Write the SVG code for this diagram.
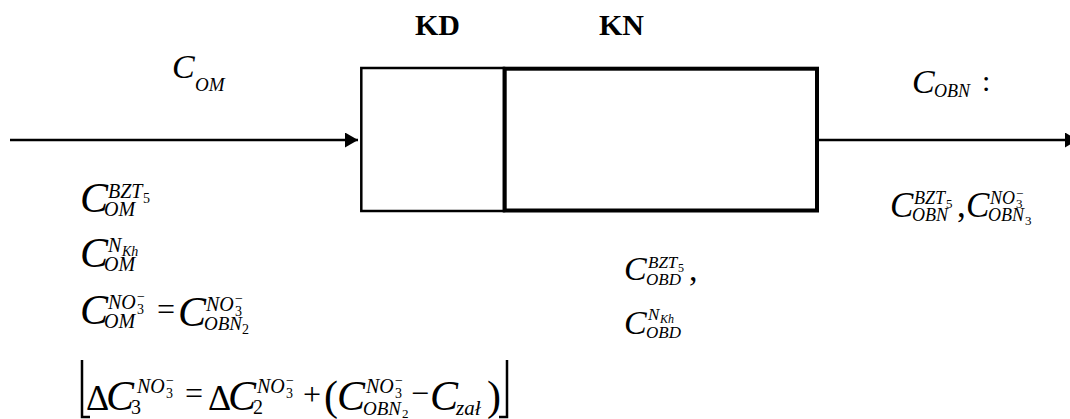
<svg xmlns="http://www.w3.org/2000/svg" width="1070" height="419" viewBox="0 0 1070 419">
<defs>
<style>
text{font-family:"Liberation Serif","Times New Roman",serif;fill:#000}
.b{font-weight:bold;font-size:30px}
.i{font-style:italic}
.u{font-style:normal}
.ln{stroke:#000;fill:none;stroke-width:2.5}
</style>
<marker id="ah" markerWidth="14" markerHeight="16" refX="13" refY="7.5" orient="auto" markerUnits="userSpaceOnUse">
<path d="M0,0 L13,7.5 L0,15 z" fill="#000"/>
</marker>
</defs>
<rect width="1070" height="419" fill="#fff"/>

<g id="connectors">
<line class="ln" x1="10" y1="140" x2="358" y2="140" marker-end="url(#ah)"/>
<line class="ln" x1="818" y1="140" x2="1078" y2="140" marker-end="url(#ah)"/>
</g>

<g id="node-KD">
<rect x="361.3" y="68" width="142.7" height="143" fill="#fff" stroke="#000" stroke-width="2.5"/>
<text class="b" x="415" y="35">KD</text>
</g>
<g id="node-KN">
<rect x="504.7" y="68.7" width="312.3" height="141.8" fill="none" stroke="#000" stroke-width="4"/>
<text class="b" x="599" y="35">KN</text>
</g>

<g id="label-com">
<text class="i"><tspan x="172" y="78" font-size="34">C</tspan><tspan x="195" y="91" font-size="19">OM</tspan></text>
</g>

<g id="label-left">
<text class="i" font-size="20"><tspan x="80" y="212" font-size="42">C</tspan><tspan x="108" y="198">BZT</tspan><tspan class="u" x="143" y="203" font-size="14">5</tspan><tspan x="104" y="216">OM</tspan></text>
<text class="i" font-size="20"><tspan x="80" y="267" font-size="42">C</tspan><tspan x="108" y="252">N</tspan><tspan x="122" y="256" font-size="14">Kh</tspan><tspan x="104" y="271">OM</tspan></text>
<text class="i" font-size="20"><tspan x="80" y="324" font-size="42">C</tspan><tspan x="108" y="309">NO</tspan><tspan class="u" x="137" y="314" font-size="14">3</tspan><tspan class="u" x="137" y="301" font-size="14">−</tspan><tspan x="104" y="328">OM</tspan><tspan class="u" x="157" y="320" font-size="32">=</tspan><tspan x="178" y="326" font-size="42">C</tspan><tspan x="206" y="311">NO</tspan><tspan class="u" x="235" y="316" font-size="14">3</tspan><tspan class="u" x="235" y="303" font-size="14">−</tspan><tspan x="204" y="330" font-size="19">OBN</tspan><tspan class="u" x="242" y="334" font-size="14">2</tspan></text>

<polyline class="ln" points="82,360 82,417 90,417"/>
<text class="i" font-size="20"><tspan class="u" x="86" y="410" font-size="36">Δ</tspan><tspan x="106" y="410" font-size="42">C</tspan><tspan class="u" x="131" y="414">3</tspan><tspan x="137" y="393">NO</tspan><tspan class="u" x="166" y="398" font-size="14">3</tspan><tspan class="u" x="166" y="385" font-size="14">−</tspan><tspan class="u" x="185" y="404" font-size="32">=</tspan><tspan class="u" x="208" y="410" font-size="36">Δ</tspan><tspan x="228" y="410" font-size="42">C</tspan><tspan class="u" x="253" y="414">2</tspan><tspan x="257" y="393">NO</tspan><tspan class="u" x="286" y="398" font-size="14">3</tspan><tspan class="u" x="286" y="385" font-size="14">−</tspan><tspan class="u" x="303" y="405" font-size="32">+</tspan><tspan class="u" x="324" y="410" font-size="42">(</tspan><tspan x="337" y="410" font-size="42">C</tspan><tspan x="366" y="393">NO</tspan><tspan class="u" x="395" y="398" font-size="14">3</tspan><tspan class="u" x="395" y="385" font-size="14">−</tspan><tspan x="363" y="415" font-size="19">OBN</tspan><tspan class="u" x="402" y="418" font-size="13">2</tspan><tspan class="u" x="411" y="404" font-size="32">−</tspan><tspan x="430" y="410" font-size="42">C</tspan><tspan x="456" y="415" font-size="21">zał</tspan><tspan class="u" x="487" y="410" font-size="42">)</tspan></text>
<polyline class="ln" points="499,417 507,417 507,360"/>
</g>

<g id="label-mid">
<text class="i" font-size="17"><tspan x="624" y="280" font-size="34">C</tspan><tspan x="648" y="268">BZT</tspan><tspan class="u" x="678" y="272" font-size="12">5</tspan><tspan x="646" y="285">OBD</tspan><tspan class="u" x="689" y="281" font-size="34">,</tspan></text>
<text class="i" font-size="17"><tspan x="624" y="334" font-size="34">C</tspan><tspan x="648" y="320">N</tspan><tspan x="660" y="323" font-size="12">Kh</tspan><tspan x="646" y="338">OBD</tspan></text>
</g>

<g id="label-right">
<text class="i"><tspan x="912" y="93" font-size="34">C</tspan><tspan x="934" y="97" font-size="18">OBN</tspan><tspan class="u" x="982" y="91" font-size="30">:</tspan></text>
<text class="i" font-size="18"><tspan x="890" y="217" font-size="35">C</tspan><tspan x="914" y="204">BZT</tspan><tspan class="u" x="946" y="208" font-size="13">5</tspan><tspan x="912" y="221">OBN</tspan><tspan class="u" x="957" y="217" font-size="35">,</tspan><tspan x="966" y="217" font-size="35">C</tspan><tspan x="990" y="204">NO</tspan><tspan class="u" x="1016" y="208" font-size="13">3</tspan><tspan class="u" x="1016" y="198" font-size="13">−</tspan><tspan x="988" y="221">OBN</tspan><tspan class="u" x="1025" y="225" font-size="13">3</tspan></text>
</g>
</svg>
